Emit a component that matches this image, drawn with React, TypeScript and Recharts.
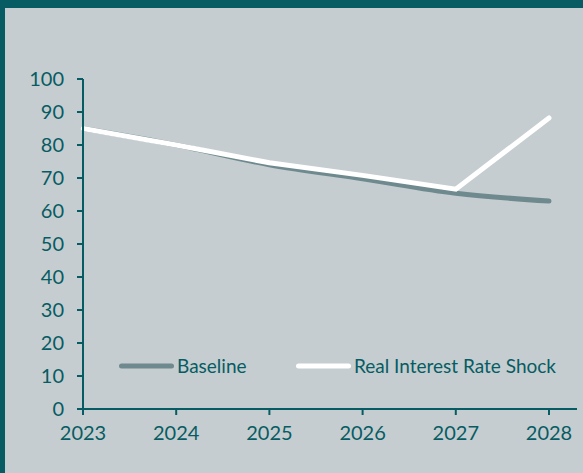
import React from "react";
import { LineChart, Line, XAxis, YAxis } from "recharts";

const years = ["2023", "2024", "2025", "2026", "2027", "2028"];
const baseline = [85, 80, 74, 69.8, 65.4, 63];
const rateShock = [85, 80, 74.6, 70.8, 66.6, 88.2];
const yTicks = [0, 10, 20, 30, 40, 50, 60, 70, 80, 90, 100];

const TEAL = "#075c63";
const PANEL = "#c5cdd0";
const GREY = "#6f8a8e";
const FONT = "Lato, 'Open Sans', sans-serif";

const data = years.map((year, i) => ({
  year,
  baseline: baseline[i],
  rateShock: rateShock[i],
}));

const legendItems = [
  { name: "Baseline", color: GREY, left: 116 },
  { name: "Real Interest Rate Shock", color: "#ffffff", left: 293 },
];

// legend sits inside the plot box, so it is laid over the chart instead of
// taking room from it
function ChartLegend() {
  return (
    <>
      {legendItems.map((item) => (
        <div
          key={item.name}
          style={{
            position: "absolute",
            left: item.left,
            top: 354,
            height: 24,
            display: "flex",
            alignItems: "center",
            fontFamily: FONT,
          }}
        >
          <svg width={61} height={10}>
            <line
              x1={5.5}
              y1={5}
              x2={55.5}
              y2={5}
              stroke={item.color}
              strokeWidth={5}
              strokeLinecap="round"
            />
          </svg>
          <span style={{ color: TEAL, fontSize: 19, lineHeight: "24px" }}>{item.name}</span>
        </div>
      ))}
    </>
  );
}

export default function App() {
  const tick = { fill: TEAL, fontSize: 20, fontFamily: FONT };
  return (
    <div
      style={{
        position: "absolute",
        top: 0,
        left: 0,
        width: 583,
        height: 473,
        background: PANEL,
        boxSizing: "border-box",
        borderTop: `8px solid ${TEAL}`,
        borderLeft: `5px solid ${TEAL}`,
      }}
    >
      <div style={{ position: "absolute", top: -8, left: -5, width: 583, height: 473 }}>
        <LineChart
          width={583}
          height={473}
          data={data}
          margin={{ top: 79, right: 6, bottom: 34, left: 0 }}
        >
          <XAxis
            dataKey="year"
            tick={tick}
            tickSize={6}
            tickMargin={11}
            height={30}
            padding={{ left: 0, right: 28 }}
            axisLine={{ stroke: TEAL, strokeWidth: 2 }}
            tickLine={{ stroke: TEAL, strokeWidth: 2 }}
          />
          <XAxis
            xAxisId="top"
            dataKey="year"
            orientation="top"
            height={0}
            tick={false}
            tickLine={false}
            axisLine={{ stroke: TEAL, strokeWidth: 2 }}
          />
          <YAxis
            domain={[0, 100]}
            ticks={yTicks}
            width={83}
            tick={tick}
            tickSize={6}
            tickMargin={13}
            interval={0}
            axisLine={{ stroke: TEAL, strokeWidth: 2 }}
            tickLine={{ stroke: TEAL, strokeWidth: 2 }}
          />
          <YAxis
            yAxisId="right"
            orientation="right"
            domain={[0, 100]}
            width={0}
            tick={false}
            tickLine={false}
            axisLine={{ stroke: TEAL, strokeWidth: 2 }}
          />
          <Line
            type="monotone"
            dataKey="baseline"
            name="Baseline"
            stroke={GREY}
            strokeWidth={5}
            strokeLinecap="round"
            dot={false}
            activeDot={false}
            isAnimationActive={false}
          />
          <Line
            type="linear"
            dataKey="rateShock"
            name="Real Interest Rate Shock"
            stroke="#ffffff"
            strokeWidth={5}
            strokeLinecap="round"
            dot={false}
            activeDot={false}
            isAnimationActive={false}
          />
        </LineChart>
        <ChartLegend />
      </div>
    </div>
  );
}
